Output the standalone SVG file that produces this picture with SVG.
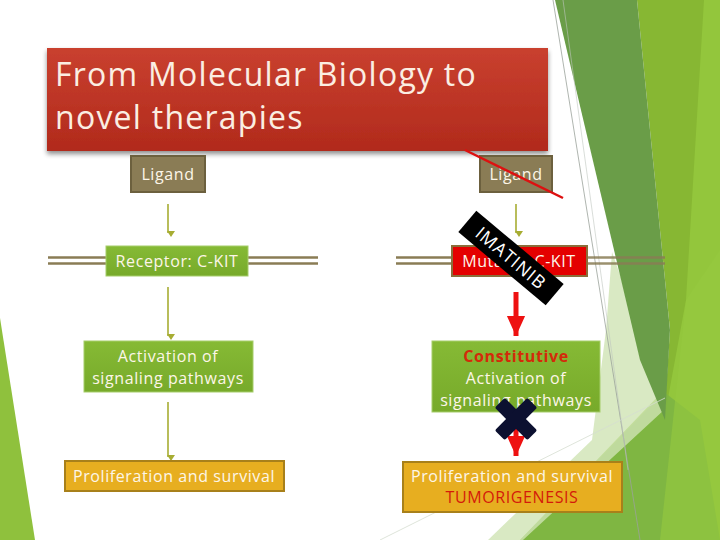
<svg xmlns="http://www.w3.org/2000/svg" width="720" height="540" viewBox="0 0 720 540">
<defs>
<linearGradient id="gTitle" x1="0" y1="0" x2="0" y2="1"><stop offset="0" stop-color="#c9402f"/><stop offset="1" stop-color="#b12a1c"/></linearGradient>
<linearGradient id="gGreen" x1="0" y1="0" x2="0" y2="1"><stop offset="0" stop-color="#86ba35"/><stop offset="1" stop-color="#77aa2a"/></linearGradient>
<filter id="shadow" x="-5%" y="-10%" width="110%" height="130%"><feGaussianBlur in="SourceAlpha" stdDeviation="2.5"/><feOffset dx="0" dy="3"/><feComponentTransfer><feFuncA type="linear" slope="0.45"/></feComponentTransfer><feMerge><feMergeNode/><feMergeNode in="SourceGraphic"/></feMerge></filter>
<marker id="mOlive" markerWidth="8" markerHeight="8" refX="4" refY="7" orient="auto-start-reverse" markerUnits="userSpaceOnUse" viewBox="0 0 8 8"><path d="M0,2 L4,8 L8,2 Z" fill="#a7ad33" transform="rotate(-90 4 4)"/></marker>
<marker id="mRed" markerWidth="20" markerHeight="22" refX="22" refY="10" orient="auto" markerUnits="userSpaceOnUse" viewBox="0 0 22 20"><path d="M0,0 L22,10 L0,20 Z" fill="#ee1111"/></marker>
<style>
.t{font-family:"Open Sans","Liberation Sans",sans-serif;fill:#fdf6e8;text-anchor:middle;font-size:16px;letter-spacing:0.6px}
.title{font-family:"Open Sans","Liberation Sans",sans-serif;fill:#fbeee2;font-size:32px;letter-spacing:1.25px}
.lig{fill:#8a7c55;stroke:#6c603e;stroke-width:2}
.grn{fill:url(#gGreen);stroke:#a6cd6a;stroke-width:1}
.gold{fill:#e7ae20;stroke:#a8801a;stroke-width:2}
.mem{stroke:#8a7c55;stroke-width:2.5;fill:none}
.oarr{stroke:#a7ad33;stroke-width:1.6;fill:none;marker-end:url(#mOlive)}
.rarr{stroke:#ee1111;stroke-width:5;fill:none;marker-end:url(#mRed)}
</style>
</defs>
<rect width="720" height="540" fill="#ffffff"/>
<g id="background">
<polygon points="0,318 35,540 0,540" fill="#8fc13d"/>
<polygon points="703,0 720,0 720,540 520,540 664,390 685,300" fill="#93c63c"/>
<polygon points="637,0 704,0 686,300 664,420 670,330" fill="#87b733"/>
<polygon points="520,540 664,392 700,420 720,540" fill="#7db443" opacity="0.9"/>
<polygon points="612,252 650,360 664,410 523,540 488,540 592,440 606,330" fill="#cfe3b4" opacity="0.8"/>
<polygon points="555,0 637,0 670,330 665,420 640,360" fill="#6a9d48"/>
<polygon points="686,300 720,250 720,540 660,540" fill="#96c940" opacity="0.6"/>
<line x1="553" y1="0" x2="640" y2="540" stroke="#9aa29a" stroke-width="0.8"/>
<line x1="563" y1="0" x2="628" y2="470" stroke="#c0c6c0" stroke-width="0.6"/>
<line x1="380" y1="540" x2="665" y2="398" stroke="#d6ddd0" stroke-width="0.8"/>
</g>
<g id="title">
<rect x="47" y="48" width="501" height="103" fill="url(#gTitle)" filter="url(#shadow)"/>
<text class="title" x="55" y="86">From Molecular Biology to</text>
<text class="title" x="55" y="129">novel therapies</text>
</g>
<g id="connectors">
<line class="mem" x1="48" y1="257.5" x2="106" y2="257.5"/>
<line class="mem" x1="48" y1="263.5" x2="106" y2="263.5"/>
<line class="mem" x1="248" y1="257.5" x2="318" y2="257.5"/>
<line class="mem" x1="248" y1="263.5" x2="318" y2="263.5"/>
<line class="mem" x1="396" y1="257.5" x2="452" y2="257.5"/>
<line class="mem" x1="396" y1="263.5" x2="452" y2="263.5"/>
<line class="mem" x1="587" y1="257.5" x2="665" y2="257.5" opacity="0.85"/>
<line class="mem" x1="587" y1="263.5" x2="665" y2="263.5" opacity="0.85"/>
<line class="oarr" x1="168" y1="204" x2="168" y2="233"/>
<line class="oarr" x1="168" y1="287" x2="168" y2="336"/>
<line class="oarr" x1="168" y1="402" x2="168" y2="457"/>
<line class="oarr" x1="516" y1="204" x2="516" y2="233"/>
<line class="rarr" x1="516" y1="292" x2="516" y2="336"/>
<line class="rarr" x1="516" y1="404" x2="516" y2="456"/>
</g>
<g id="ligand-left">
<rect class="lig" x="131" y="156" width="74" height="36"/>
<text class="t" x="168" y="180">Ligand</text>
</g>
<g id="receptor-left">
<rect class="grn" x="106" y="246" width="142" height="30"/>
<text class="t" x="177" y="267">Receptor: C-KIT</text>
</g>
<g id="activation-left">
<rect class="grn" x="84" y="341" width="169" height="51"/>
<text class="t" x="168" y="362">Activation of</text>
<text class="t" x="168" y="384">signaling pathways</text>
</g>
<g id="proliferation-left">
<rect class="gold" x="65" y="461" width="219" height="30"/>
<text class="t" x="174" y="482">Proliferation and survival</text>
</g>
<g id="ligand-right">
<rect class="lig" x="480" y="156" width="72" height="36"/>
<text class="t" x="516" y="180">Ligand</text>
</g>
<g id="strike">
<line x1="465" y1="150" x2="563" y2="198" stroke="#dd1010" stroke-width="2.5"/>
</g>
<g id="mutated-right">
<rect x="452" y="246" width="135" height="30" fill="#e40000" stroke="#8a6e3a" stroke-width="2"/>
<text class="t" x="519" y="267">Mutated C-KIT</text>
</g>
<g id="imatinib" transform="translate(511,258) rotate(40)">
<rect x="-57" y="-14" width="114" height="28" fill="#000000"/>
<text class="t" x="0" y="6.5" style="fill:#ffffff;font-size:18px;letter-spacing:1px">IMATINIB</text>
</g>
<g id="constitutive-right">
<rect class="grn" x="432" y="341" width="168" height="71"/>
<text class="t" x="516" y="362" style="fill:#d42a0a;font-weight:bold">Constitutive</text>
<text class="t" x="516" y="384">Activation of</text>
<text class="t" x="516" y="406">signaling pathways</text>
</g>
<g id="block-x" transform="translate(516,419) rotate(45)">
<rect x="-23" y="-7" width="46" height="14" rx="2" fill="#0c1030"/>
<rect x="-7" y="-23" width="14" height="46" rx="2" fill="#0c1030"/>
</g>
<g id="proliferation-right">
<rect class="gold" x="403" y="462" width="219" height="50"/>
<text class="t" x="512" y="482">Proliferation and survival</text>
<text class="t" x="512" y="503" style="fill:#d41a0a">TUMORIGENESIS</text>
</g>
</svg>
